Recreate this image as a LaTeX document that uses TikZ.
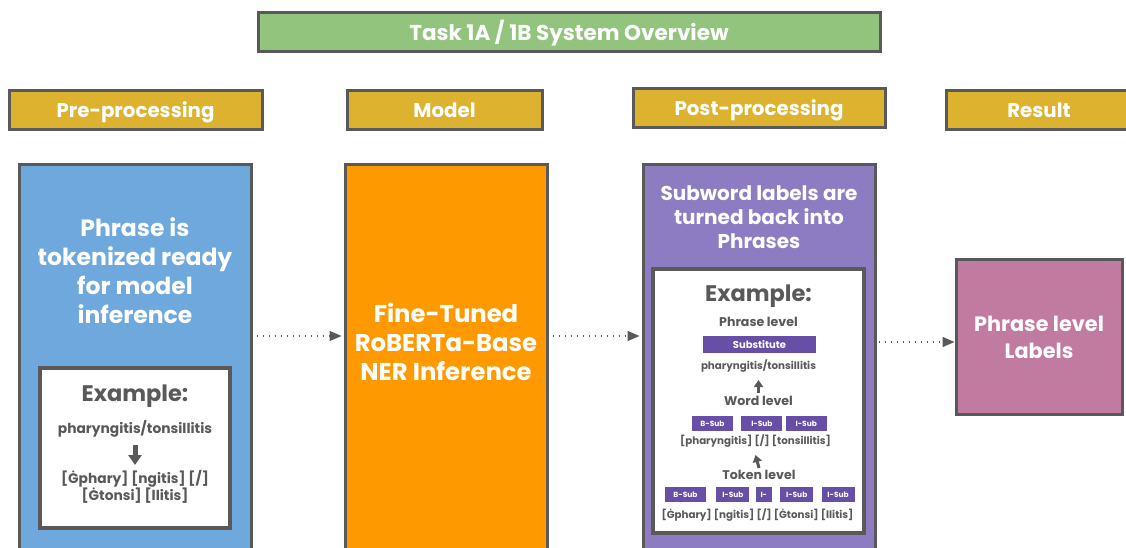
\documentclass[tikz,border=0pt]{standalone}
\usepackage{fontspec}
\setmainfont{Poppins}
\usetikzlibrary{arrows.meta,positioning}
\definecolor{titlegreen}{RGB}{147,196,125}
\definecolor{gold}{RGB}{220,178,46}
\definecolor{edge}{RGB}{89,89,89}
\definecolor{preblue}{RGB}{111,168,220}
\definecolor{modelorange}{RGB}{255,153,0}
\definecolor{postpurple}{RGB}{142,124,195}
\definecolor{resultpink}{RGB}{194,123,160}
\definecolor{tagpurple}{RGB}{103,78,167}
\tikzstyle{banner} = [rectangle, draw=edge, line width=3pt, fill=titlegreen, text=white, font=\bfseries\fontsize{21.5}{24}\selectfont, minimum width=622pt, minimum height=39pt, inner sep=0pt, text height=17pt, text depth=0pt]
\tikzstyle{header} = [rectangle, draw=edge, line width=3pt, fill=gold, text=white, font=\bfseries\fontsize{19.8}{22}\selectfont, minimum height=39pt, inner sep=0pt, text height=16.5pt, text depth=0pt]
\tikzstyle{stage} = [rectangle, draw=edge, line width=3pt, inner sep=0pt]
\tikzstyle{stagetext} = [text=white, align=center, inner sep=0pt, font=\bfseries\fontsize{23.5}{29}\selectfont]
\tikzstyle{example} = [rectangle, draw=edge, line width=4pt, fill=white, inner sep=0pt]
\tikzstyle{exhead} = [text=edge, inner sep=0pt, font=\bfseries\fontsize{22.5}{24}\selectfont]
\tikzstyle{exlevel} = [text=edge, inner sep=0pt, font=\bfseries\fontsize{12.6}{14}\selectfont]
\tikzstyle{extext} = [text=edge, align=center, inner sep=0pt, font=\bfseries\fontsize{13.8}{17}\selectfont]
\tikzstyle{exsmall} = [text=edge, align=center, inner sep=0pt, font=\bfseries\fontsize{10.3}{12}\selectfont]
\tikzstyle{tag} = [rectangle, fill=tagpurple, text=white, font=\bfseries\fontsize{7.5}{8}\selectfont, minimum height=15pt, inner sep=0pt]
\tikzstyle{flow} = [draw=edge, line width=1.5pt, dash pattern=on 1.5pt off 4.5pt, -{Triangle[length=12pt,width=10pt]}]
\tikzstyle{drop} = [draw=edge, line width=5pt, -{Triangle[length=10pt,width=13pt]}]
\tikzstyle{lift} = [draw=edge, line width=3pt, -{Triangle[length=7pt,width=9pt]}]

\begin{document}
\begin{tikzpicture}[x=1pt, y=-1pt]
\useasboundingbox (0,0) rectangle (1126,547);

% title and headers
\node[banner] (title) at (569,31.5) {Task 1A / 1B System Overview};
\node[header, minimum width=253pt] (hpre) at (135.5,109.5) {Pre-processing};
\node[header, minimum width=195pt] (hmodel) at (444.5,109.5) {Model};
\node[header, minimum width=252pt] (hpost) at (759,107.5) {Post-processing};
\node[header, minimum width=186pt] (hresult) at (1039,109.5) {Result};

% stages
\node[stage, fill=preblue, minimum width=232pt, minimum height=406pt] (pre) at (135,367) {};
\node[stage, fill=modelorange, minimum width=202pt, minimum height=406pt] (model) at (446,367) {};
\node[stage, fill=postpurple, minimum width=232pt, minimum height=406pt] (post) at (759,367) {};
\node[stage, fill=resultpink, minimum width=166pt, minimum height=155pt] (result) at (1039,336.5) {};

\node[stagetext] (pretext) at (135,271) {Phrase is\\tokenized ready\\for model\\inference};
\node[stagetext, font=\bfseries\fontsize{24.3}{29}\selectfont] (modeltext) at (446,342) {Fine-Tuned\\RoBERTa-Base\\NER Inference};
\node[stagetext, font=\bfseries\fontsize{20}{24}\selectfont] (posttext) at (759,217) {Subword labels are\\turned back into\\Phrases};
\node[stagetext, font=\bfseries\fontsize{20.8}{27}\selectfont] (resulttext) at (1039,337.5) {Phrase level\\Labels};

% pre-processing example
\node[example, minimum width=190pt, minimum height=160pt] (preex) at (135,448) {};
\node[exhead] (prehead) at (135,396) {Example:};
\node[extext] (prephrase) at (135,429) {pharyngitis/tonsillitis};
\node[extext] (pretok) at (135,487) {[Ġphary] [ngitis] [/]\\{}[Ġtonsi] [llitis]};

% post-processing example
\node[example, minimum width=211pt, minimum height=264pt] (postex) at (758.5,401) {};
\node[exhead] (posthead) at (758.5,296) {Example:};
\node[exlevel] (phraselvl) at (758.5,322) {Phrase level};
\node[tag, minimum width=113pt, minimum height=17pt, font=\bfseries\fontsize{10}{11}\selectfont] (subst) at (759.5,344.5) {Substitute};
\node[exsmall] (phrasetxt) at (758.5,366) {pharyngitis/tonsillitis};
\node[exlevel] (wordlvl) at (758.5,401) {Word level};
\node[tag, minimum width=41pt] (w1) at (712.5,423.5) {B-Sub};
\node[tag, minimum width=41pt, right=8pt of w1] (w2) {I-Sub};
\node[tag, minimum width=41pt, right=3pt of w2] (w3) {I-Sub};
\node[exsmall] (wordtxt) at (755.5,441) {[pharyngitis] [/] [tonsillitis]};
\node[exlevel] (toklvl) at (759,475) {Token level};
\node[tag, minimum width=41pt] (t1) at (685.5,494.5) {B-Sub};
\node[tag, minimum width=33pt, right=10pt of t1] (t2) {I-Sub};
\node[tag, minimum width=16pt, right=6pt of t2] (t3) {I-};
\node[tag, minimum width=33pt, right=8pt of t3] (t4) {I-Sub};
\node[tag, minimum width=33pt, right=8pt of t4] (t5) {I-Sub};
\node[exsmall] (toktxt) at (757.5,515) {[Ġphary] [ngitis] [/] [Ġtonsi] [llitis]};

% edges
\path[flow] ([yshift=31pt,xshift=4pt]pre.east) -- ([yshift=31pt,xshift=-2pt]model.west);
\path[flow] ([yshift=31pt,xshift=4pt]model.east) -- ([yshift=31pt,xshift=-2pt]post.west);
\path[flow] ([yshift=25pt,xshift=2pt]post.east) -- ([yshift=25pt]post.east -| result.west);
\path[drop] ([yshift=-16pt]prephrase.center) -- ([yshift=22pt]pretok.center);
\path[lift] ([yshift=8pt]wordlvl.center) -- ([yshift=-14pt]phrasetxt.center);
\path[lift] ([yshift=7pt]toklvl.center) -- ([yshift=-14pt]wordtxt.center);

\end{tikzpicture}
\end{document}
